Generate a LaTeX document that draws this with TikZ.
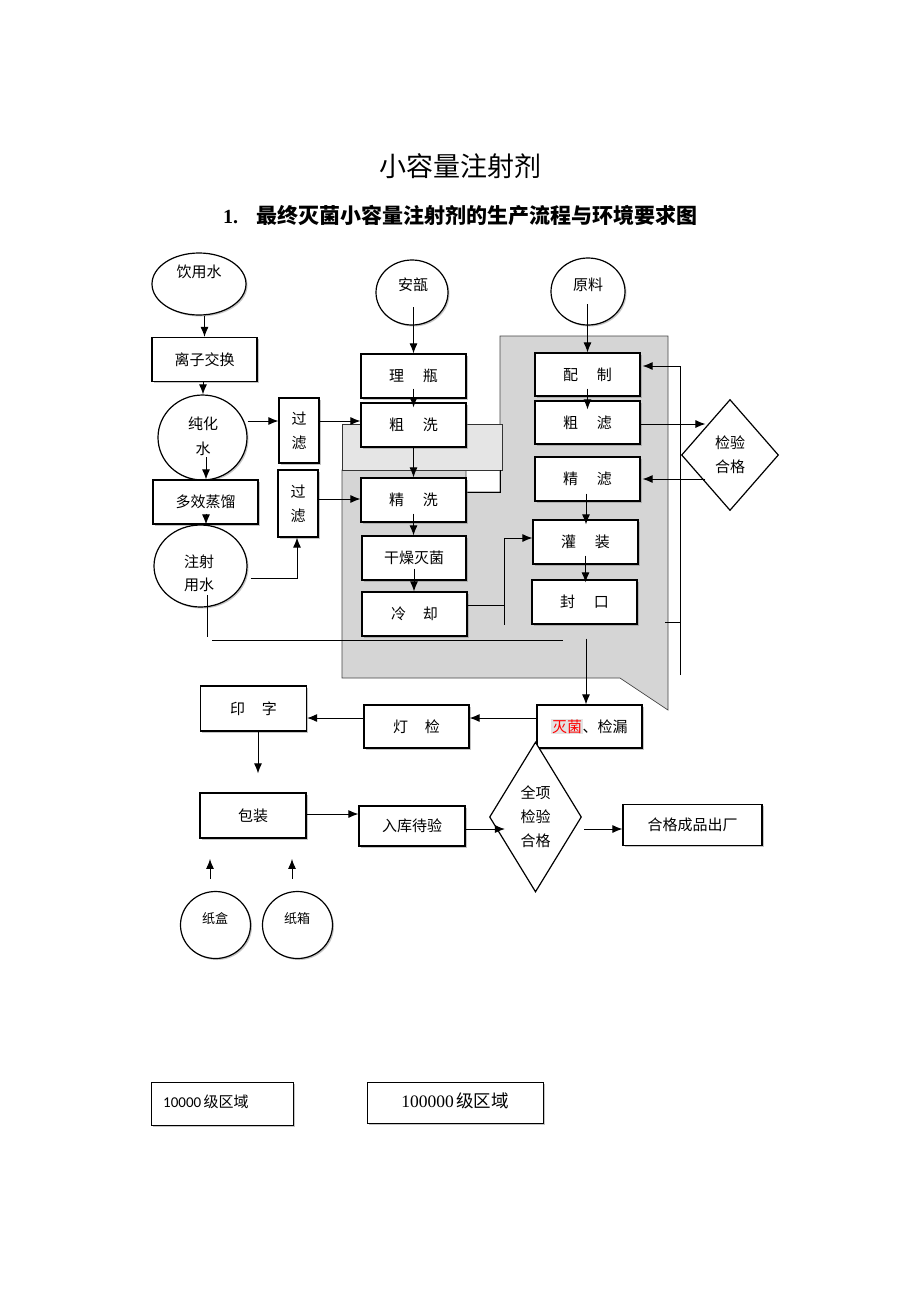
\documentclass[tikz,border=0pt]{standalone}
\usepackage{fontspec}
\setmainfont{Liberation Serif}
\newfontfamily\cjk{Noto Sans CJK SC}
\newfontfamily\carl{Carlito}
\usetikzlibrary{shapes.geometric,arrows.meta,shadows}
\begin{document}
\begin{tikzpicture}[x=1pt,y=-1pt,
  shd/.style={drop shadow={shadow xshift=1.5pt,shadow yshift=-1.5pt,opacity=0.45}},
  box/.style={draw,line width=1.2pt,fill=white,inner sep=0pt,minimum width=105pt,minimum height=44pt,
    font=\cjk\fontsize{15}{24}\selectfont,align=center,shd},
  ell/.style={draw,ellipse,line width=1.2pt,fill=white,inner sep=0pt,shd},
  txt/.style={font=\cjk\fontsize{15}{24}\selectfont,align=center,inner sep=0pt},
  dia/.style={draw,diamond,line width=1.2pt,fill=white,inner sep=0pt,
    font=\cjk\fontsize{15}{24}\selectfont,align=center},
  arr/.style={-{Latex[length=10pt,width=8pt]},line width=1pt},
  ln/.style={line width=1pt}
]
\fill[white] (0,0) rectangle (920,1302);
\useasboundingbox (0,0) rectangle (920,1302);

% titles
\node[font=\cjk\fontsize{27}{30}\selectfont,inner sep=0pt] (title) at (460,166) {小容量注射剂};
\node[inner sep=0pt] (subtitle) at (460,216) {\fontsize{20}{24}\selectfont\bfseries 1.\hspace{18pt}{\cjk\fontsize{21}{24}\selectfont\bfseries 最终灭菌小容量注射剂的生产流程与环境要求图}};

% shaded areas
\filldraw[fill=gray!33,draw=gray!55!black,line width=0.7pt]
  (500,336) -- (668,336) -- (668,710) -- (620,678) -- (342,678) -- (342,470)
  -- (466,470) -- (466,492) -- (500,492) -- cycle;
\filldraw[fill=gray!20,draw=gray!40!black,line width=0.7pt] (342,424) rectangle (502,470);
\draw[ln] (466,492) -- (500,492) -- (500,470);

% left column
\node[ell,minimum width=94pt,minimum height=62pt] (yys) at (199,284) {};
\node[txt] (yyst) at (199,272) {饮用水};
\node[box] (lzjh) at (204.5,359.5) {离子交换};
\node[ell,minimum width=89pt,minimum height=85pt] (chs) at (202.5,437.5) {};
\node[txt,font=\cjk\fontsize{15}{25}\selectfont] (chst) at (203,436) {纯化\\水};
\node[box] (dxzl) at (205.5,502) {多效蒸馏};
\node[ell,minimum width=93pt,minimum height=82pt] (zsys) at (200.5,566) {};
\node[txt,font=\cjk\fontsize{15}{23}\selectfont] (zsyst) at (199,573) {注射\\用水};
\node[box,minimum width=40pt,minimum height=65pt] (gl1) at (299,430.5) {过\\滤};
\node[box,minimum width=40pt,minimum height=67pt] (gl2) at (298,503.5) {过\\滤};

% middle column
\node[ell,minimum width=72pt,minimum height=65pt] (ap) at (412,292.5) {};
\node[txt] (apt) at (413,285) {安瓿};
\node[box] (lp) at (413.5,376) {理\hspace{19pt}瓶};
\node[box] (cx) at (413.5,425) {粗\hspace{19pt}洗};
\node[box] (jx) at (413.5,500) {精\hspace{19pt}洗};
\node[box,minimum width=104pt] (gz) at (414,558) {干燥灭菌};
\node[box] (lq) at (414.5,614) {冷\hspace{17pt}却};

% right column
\node[ell,minimum width=74pt,minimum height=67pt] (yl) at (588,291.5) {};
\node[txt] (ylt) at (588,285) {原料};
\node[box,minimum height=43pt] (pz) at (587.5,374.5) {配\hspace{19pt}制};
\node[box,minimum height=43pt] (cl) at (587.5,422.5) {粗\hspace{19pt}滤};
\node[box] (jl) at (587.5,479) {精\hspace{19pt}滤};
\node[box] (gzh) at (585.5,542) {灌\hspace{19pt}装};
\node[box] (fk) at (584.5,602) {封\hspace{19pt}口};
\node[dia,minimum width=97pt,minimum height=111pt] (jyhg) at (730,455) {检验\\合格};

% lower part
\node[box,minimum width=106pt,minimum height=45pt] (yz) at (253.5,708.5) {印\hspace{17pt}字};
\node[box,minimum height=43pt] (dj) at (416.5,726.5) {灯\hspace{17pt}检};
\node[box,minimum height=43pt] (mj) at (589.5,726.5) {{\setlength{\fboxsep}{0.6pt}\colorbox{gray!22}{\textcolor{red}{灭菌}}}、检漏};
\node[box,minimum width=106pt,minimum height=45pt] (bz) at (253,815.5) {包装};
\node[box,minimum width=106pt,minimum height=40pt] (rk) at (412,826) {入库待验};
\node[dia,minimum width=89pt,minimum height=150pt] (qx) at (535.5,817) {全项\\检验\\合格};
\node[box,minimum width=139pt,minimum height=41pt] (hg) at (692.5,825) {合格成品出厂};
\node[ell,minimum width=70pt,minimum height=67pt] (zh) at (215.5,925) {};
\node[txt,font=\cjk\fontsize{13}{15}\selectfont] (zht) at (215,919) {纸盒};
\node[ell,minimum width=70pt,minimum height=67pt] (zx) at (297.5,925) {};
\node[txt,font=\cjk\fontsize{13}{15}\selectfont] (zxt) at (297,919) {纸箱};

% legend
\node[draw,line width=0.8pt,minimum width=142pt,minimum height=43pt,inner sep=0pt,shd,fill=white] (lg1) at (222,1103.5) {};
\node[anchor=west,inner sep=0pt] (lg1t) at (163,1102) {{\carl\fontsize{15}{18}\selectfont 10000} {\cjk\fontsize{15}{18}\selectfont 级区域}};
\node[draw,line width=0.8pt,minimum width=176pt,minimum height=41pt,inner sep=0pt,shd,fill=white] (lg2) at (455,1102.5) {};
\node[inner sep=0pt] (lg2t) at (455,1101) {{\fontsize{17.5}{20}\selectfont 100000} {\cjk\fontsize{17.5}{20}\selectfont 级区域}};

% connectors, left column
\draw[arr] (yys.south -| lzjh.north) -- (lzjh.north);
\draw[arr] ([xshift=-1.5pt]lzjh.south) -- ([xshift=-1.5pt]lzjh.south |- chs.north);
\draw[arr] ([xshift=0.5pt]dxzl.north) ++(0,-22) -- ([xshift=0.5pt]dxzl.north);
\draw[arr] ([xshift=0.5pt]dxzl.south) ++(0,-11) -- ([xshift=0.5pt]dxzl.south |- zsys.north);
\draw[arr] ([yshift=9.5pt]gl1.west -| chs.east) -- ([yshift=9.5pt]gl1.west);
\draw[arr] ([yshift=9.5pt]gl1.east) -- ([yshift=9.5pt]gl1.east -| cx.west);
\draw[arr] ([yshift=4.5pt]gl2.east) -- ([yshift=4.5pt]gl2.east -| jx.west);
\draw[arr] ([xshift=3pt,yshift=-12pt]zsys.east) -| ([xshift=-1pt]gl2.south);
\coordinate (wStart) at (207,595);
\coordinate (wEnd) at (207,637);
\draw[ln] (wStart) -- (wEnd);
\coordinate (hStart) at (212,640);
\coordinate (hEnd) at (563,640);
\draw[ln] (hStart) -- (hEnd);

% middle column
\draw[arr] (lp.north) ++(0,-46) -- (lp.north);
\draw[arr] (lp.south) ++(0,-10) -- ([yshift=-5pt]cx.north);
\draw[arr] (cx.south) -- (jx.north);
\draw[arr] (jx.south) ++(0,-9) -- (jx.south |- gz.north);
\draw[arr] (gz.south) ++(0,-12) -- (gz.south |- lq.north);
\draw[arr] ([yshift=9pt]lq.east) -| ([xshift=-28pt,yshift=4pt]gzh.west) -- ([yshift=4pt]gzh.west);
\draw[ln] ([xshift=-28pt,yshift=4pt]gzh.west) -- ++(0,87);

% right column
\draw[arr] (pz.north) ++(0,-48) -- (pz.north);
\draw[arr] (pz.south) ++(0,-8) -- ([yshift=-9pt]pz.south |- cl.north);
\draw[arr] ([xshift=-1.5pt]jl.south) ++(0,-8) -- ([xshift=-1.5pt,yshift=-5pt]jl.south |- gzh.north);
\draw[arr] (gzh.south) ++(0,-9) -- ([yshift=-3pt]gzh.south |- fk.north);
\draw[arr] ([xshift=1.5pt,yshift=-14pt]fk.south) -- ([xshift=1.5pt]fk.south |- mj.north);
\coordinate (fbBottom) at (680,675);
\draw[arr] (fbBottom) |- ([xshift=2pt,yshift=8.5pt]pz.east);
\coordinate (fbMid) at (665,622);
\draw[ln] (fbMid) -- (fbMid -| fbBottom);
\draw[arr] ([yshift=-1.5pt]cl.east) -- ([yshift=-1.5pt]cl.east -| jyhg.north west);
\draw[arr] (jyhg.south west |- jl.east) -- ([xshift=2pt]jl.east);

% lower part
\draw[arr] ([yshift=8.5pt]mj.west) -- ([yshift=8.5pt]mj.west -| dj.east);
\draw[arr] ([yshift=8.5pt]dj.west) -- ([yshift=8.5pt]dj.west -| yz.east);
\draw[arr,shorten >=19pt] ([xshift=4.5pt]yz.south) -- ([xshift=4.5pt]yz.south |- bz.north);
\draw[arr] ([yshift=1.5pt]bz.east) -- ([yshift=1.5pt]bz.east -| rk.west);
\draw[arr] ([yshift=-3pt]rk.east) -- ([xshift=16pt,yshift=-12pt]qx.west);
\draw[arr] ([xshift=2pt,yshift=-12pt]qx.east) -- ([yshift=-12pt]qx.east -| hg.west);
\draw[arr] ([xshift=-5.5pt,yshift=12pt]zh.north) -- ([xshift=-5.5pt,yshift=32pt]zh.north);
\draw[arr] ([xshift=-5.5pt,yshift=12pt]zx.north) -- ([xshift=-5.5pt,yshift=32pt]zx.north);
\end{tikzpicture}
\end{document}
